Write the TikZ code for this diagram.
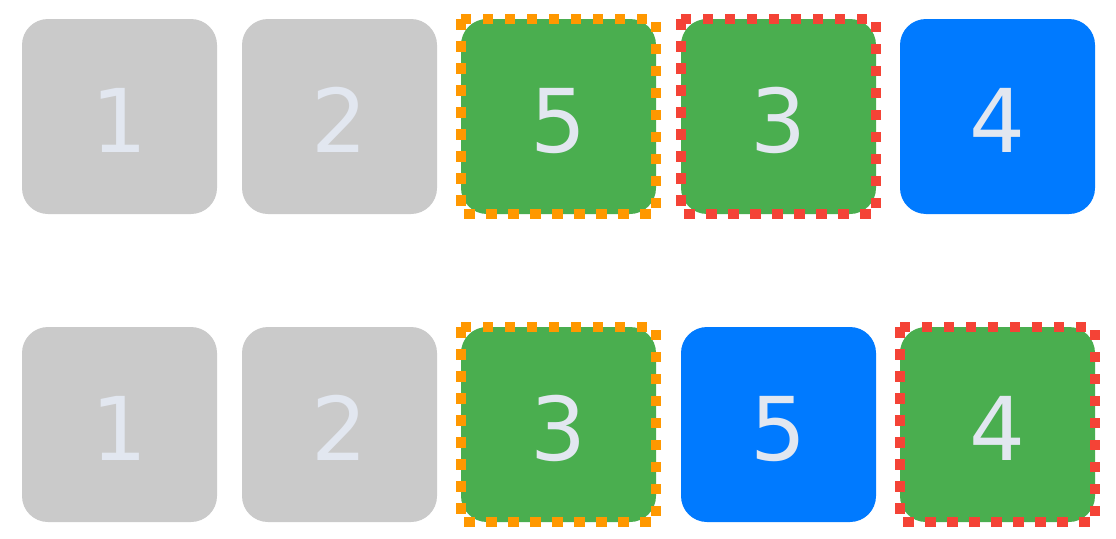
\documentclass[tikz,border=0pt]{standalone}
\usepackage{fontspec}
\setmainfont{DejaVu Sans}
\definecolor{cgray}{HTML}{CACACA}
\definecolor{cgreen}{HTML}{4AAE4F}
\definecolor{cblue}{HTML}{007AFF}
\definecolor{corange}{HTML}{FF9800}
\definecolor{cred}{HTML}{F44336}
\definecolor{ctext}{HTML}{E2E7F0}
\tikzset{
  tile/.style={rectangle, rounded corners=26pt, minimum width=195pt, minimum height=195pt,
    inner sep=0pt, outer sep=0pt, anchor=north west, text=ctext,
    font=\fontsize{88}{88}\selectfont, text height=71pt, text depth=0pt},
  graytile/.style={tile, fill=cgray},
  greentile/.style={tile, fill=cgreen},
  bluetile/.style={tile, fill=cblue},
  dotline/.style={line width=10.5pt, dash pattern=on 10.5pt off 11.5pt},
  orangedots/.style={dotline, draw=corange},
  reddots/.style={dotline, draw=cred}
}
\begin{document}
\begin{tikzpicture}[x=1pt,y=-1pt]
\useasboundingbox[fill=white] (0,0) rectangle (1116,538);
% row 1
\node[graytile]  (a1) at (22,19)  {1};
\node[graytile]  (a2) at (242,19) {2};
\node[greentile] (a3) at (461,19) {5};
\node[greentile] (a4) at (681,19) {3};
\node[bluetile]  (a5) at (900,19) {4};
% row 2
\node[graytile]  (b1) at (22,327)  {1};
\node[graytile]  (b2) at (242,327) {2};
\node[greentile] (b3) at (461,327) {3};
\node[bluetile]  (b4) at (681,327) {5};
\node[greentile] (b5) at (900,327) {4};
% dotted outlines
\draw[orangedots] (a3.north west) rectangle (a3.south east);
\draw[reddots] (a4.north west) rectangle (a4.south east);
\draw[orangedots] (b3.north west) rectangle (b3.south east);
\draw[reddots] (b5.north west) rectangle (b5.south east);
\end{tikzpicture}
\end{document}
